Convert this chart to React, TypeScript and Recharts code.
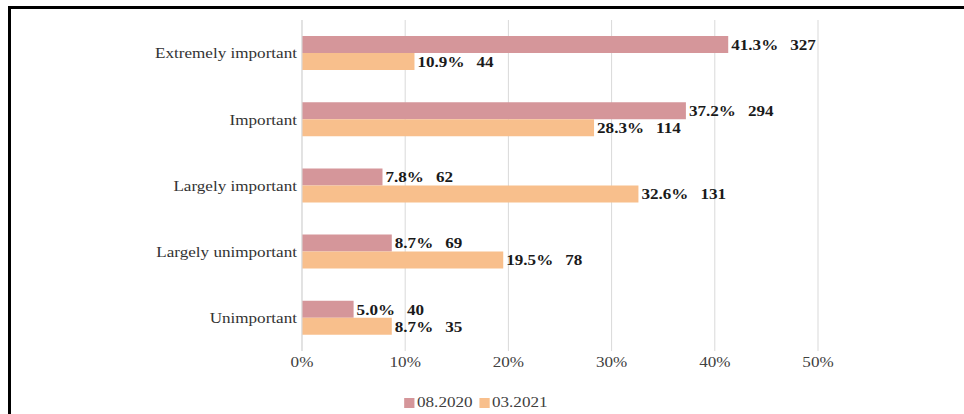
import React from "react";
import { BarChart, Bar, XAxis, YAxis, CartesianGrid, Legend, LabelList } from "recharts";

const categories = ["Extremely important", "Important", "Largely important", "Largely unimportant", "Unimportant"];
const pct2020 = [41.3, 37.2, 7.8, 8.7, 5.0];
const cnt2020 = [327, 294, 62, 69, 40];
const pct2021 = [10.9, 28.3, 32.6, 19.5, 8.7];
const cnt2021 = [44, 114, 131, 78, 35];
const xTicks = [0, 10, 20, 30, 40, 50];
const seriesNames = ["08.2020", "03.2021"];

const data = categories.map((c, i) => ({
  name: c,
  a: pct2020[i],
  b: pct2021[i],
}));

const FONT = "Liberation Serif, DejaVu Serif, serif";
const PINK = "#D5969A";
const ORANGE = "#F8BF8C";
const SX = 1.14;

const makeLabel = (counts: number[], pcts: number[]) => (props: any) => {
  const { x, y, width, height, index } = props;
  const tx = x + width + 3;
  const ty = y + height / 2;
  return (
    <g transform={`translate(${tx},${ty})`}>
      <text
        x={0}
        y={0}
        dy="0.35em"
        transform={`scale(${SX},1)`}
        style={{ fontFamily: FONT, fontSize: 15, fontWeight: "bold", whiteSpace: "pre" }}
        fill="#1a1a1a"
      >
        {`${pcts[index].toFixed(1)}%\u2002\u2009${counts[index]}`}
      </text>
    </g>
  );
};

const YTick = (props: any) => {
  const { x, y, payload } = props;
  return (
    <g transform={`translate(${x},${y})`}>
      <text x={0} y={0} dy="0.35em" textAnchor="end" transform={`scale(${SX},1)`}
        style={{ fontFamily: FONT, fontSize: 15 }} fill="#333">
        {payload.value}
      </text>
    </g>
  );
};

const XTick = (props: any) => {
  const { x, y, payload } = props;
  return (
    <g transform={`translate(${x},${y})`}>
      <text x={0} y={0} dy="0.71em" textAnchor="middle" transform={`scale(${SX},1)`}
        style={{ fontFamily: FONT, fontSize: 15 }} fill="#404040">
        {`${payload.value}%`}
      </text>
    </g>
  );
};

const LegendContent = () => (
  <div style={{ display: "flex", justifyContent: "center", alignItems: "center", fontFamily: FONT, fontSize: 15, color: "#404040", transform: `scaleX(${SX})` }}>
    {seriesNames.map((n, i) => (
      <div key={n} style={{ display: "flex", alignItems: "center", marginRight: i === 0 ? 6 : 0 }}>
        <span style={{ display: "inline-block", width: 9, height: 10, background: i === 0 ? PINK : ORANGE, marginRight: 2 }} />
        <span>{n}</span>
      </div>
    ))}
  </div>
);

export default function App() {
  return (
    <div style={{ position: "absolute", left: 0, top: 0, width: 964, height: 414, background: "#fff", fontFamily: FONT }}>
      <div
        style={{
          position: "absolute",
          left: 8,
          top: 6,
          width: 956,
          height: 408,
          borderTop: "3px solid #000",
          borderLeft: "3px solid #000",
          boxSizing: "border-box",
        }}
      />
      <div style={{ position: "absolute", left: 0, top: 0 }}>
        <BarChart
          width={964}
          height={414}
          data={data}
          layout="vertical"
          margin={{ top: 20, right: 146, bottom: 0, left: 0 }}
          barGap={0}
          barCategoryGap="24%"
          style={{ fontFamily: FONT }}
        >
          <CartesianGrid horizontal={false} stroke="#d9d9d9" />
          <XAxis
            type="number"
            domain={[0, 50]}
            ticks={xTicks}
            axisLine={false}
            tickLine={false}
            tickSize={0}
            tickMargin={5}
            height={46}
            tick={<XTick />}
            interval={0}
          />
          <YAxis
            type="category"
            dataKey="name"
            width={302}
            axisLine={{ stroke: "#d9d9d9" }}
            tickLine={false}
            tickSize={3}
            tickMargin={2}
            tick={<YTick />}
            interval={0}
          />
          <Legend
            verticalAlign="bottom"
            content={<LegendContent />}
            wrapperStyle={{ left: -6, width: 964, top: 394 }}
          />
          <Bar dataKey="a" name={seriesNames[0]} fill={PINK} barSize={17} isAnimationActive={false}>
            <LabelList dataKey="a" content={makeLabel(cnt2020, pct2020)} />
          </Bar>
          <Bar dataKey="b" name={seriesNames[1]} fill={ORANGE} barSize={17} isAnimationActive={false}>
            <LabelList dataKey="b" content={makeLabel(cnt2021, pct2021)} />
          </Bar>
        </BarChart>
      </div>
    </div>
  );
}
